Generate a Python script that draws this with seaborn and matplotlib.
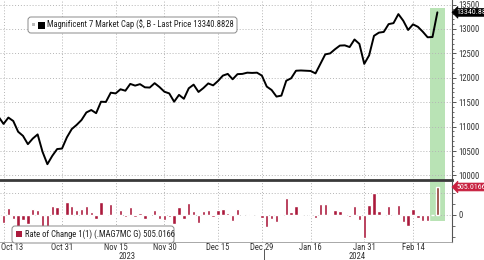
import matplotlib
matplotlib.use("Agg")
import matplotlib.pyplot as plt
import matplotlib.transforms as mtransforms
from matplotlib.patches import FancyBboxPatch, Rectangle
from matplotlib import font_manager as fm
import seaborn as sns
import numpy as np
import pandas as pd

# ---------------- data ----------------
holidays = ["2023-11-23", "2023-12-25", "2024-01-01", "2024-01-15", "2024-02-19"]
dates = pd.bdate_range("2023-10-12", "2024-02-22", freq="C", holidays=holidays)

market_cap = [
    11200, 11055, 11185, 11115, 10895, 10810, 10640, 10755, 10840, 10485,
    10230, 10400, 10540, 10550, 10780, 10950, 11035, 11135, 11290, 11340,
    11275, 11510, 11505, 11695, 11680, 11765, 11735, 11875, 11840, 11870,
    11805, 11800, 11890, 11810, 11715, 11680, 11510, 11650, 11570, 11785,
    11860, 11710, 11790, 11885, 11845, 11935, 12045, 12080, 11970, 12075,
    12080, 12105, 12100, 12105, 12045, 11820, 11750, 11615, 11635, 11940,
    11990, 12145, 12150, 12145, 12140, 12090, 12285, 12480, 12500, 12585,
    12660, 12665, 12630, 12785, 12695, 12285, 12460, 12860, 12925, 12940,
    13100, 13120, 13305, 13170, 12980, 13095, 13045, 12945, 12830, 12835.87,
    13340.8828,
]
rate_of_change = [
    45, -145, 130, -70, -220, -85, -170, 115, 85, -355,
    -255, 170, 140, 10, 230, 170, 85, 100, 155, 50,
    -65, 235, -5, 190, -15, 85, -30, 140, -35, 30,
    -65, -5, 90, -80, -95, -35, -170, 140, -80, 215,
    75, -150, 80, 95, -40, 90, 110, 35, -110, 105,
    5, 25, -5, 5, -60, -225, -70, -135, 20, 305,
    50, 155, 5, -5, -5, -50, 195, 195, 20, 85,
    75, 5, -35, 155, -90, -410, 175, 400, 65, 15,
    160, 20, 185, -135, -190, 115, -50, -100, -115, 6,
    505.0166,
]
tick_dates = ["2023-10-13", "2023-10-31", "2023-11-15", "2023-11-30", "2023-12-15",
              "2023-12-29", "2024-01-16", "2024-01-31", "2024-02-14"]
tick_labels = ["Oct 13", "Oct 31", "Nov 15", "Nov 30", "Dec 15",
               "Dec 29", "Jan 16", "Jan 31", "Feb 14"]
year_labels = ["2023", "2024"]
top_ticks = [10000, 10500, 11000, 11500, 12000, 12500, 13000, 13500]
legend_top = "Magnificent 7 Market Cap ($, B - Last Price 13340.8828"
legend_bottom = "Rate of Change 1(1) (.MAG7MC G) 505.0166"

df = pd.DataFrame({"k": np.arange(len(dates)), "cap": market_cap, "roc": rate_of_change})
tick_pos = [int(np.where(dates == pd.Timestamp(d))[0][0]) for d in tick_dates]
year_break = int(np.where(dates == pd.Timestamp("2024-01-02"))[0][0]) - 0.5

# ---------------- style ----------------
sns.set_theme(style="white")
fonts = fm.fontManager.ttflist
names = {f.name for f in fonts}
stretch = "normal"
fam = None
for cand in ["Liberation Sans Narrow", "Roboto Condensed", "Open Sans Condensed",
             "DejaVu Sans Condensed", "Noto Sans Condensed"]:
    if cand in names:
        fam = cand
        break
if fam is None:
    for cand in ["DejaVu Sans", "Noto Sans", "Open Sans", "Roboto"]:
        if any(f.name == cand and str(f.stretch) in ("condensed", "semi-condensed") for f in fonts):
            fam, stretch = cand, "condensed"
            break
if fam is None:
    fam = "Liberation Sans"
plt.rcParams["font.family"] = [fam, "DejaVu Sans"]
plt.rcParams["font.stretch"] = stretch

W, H = 485, 260
fig = plt.figure(figsize=(W / 100, H / 100), dpi=100)
px = mtransforms.IdentityTransform()

# size texts from their width in the reference
_renderer = fig.canvas.get_renderer()


def _fit(text, target):
    t = fig.text(0, 0, text, fontsize=10)
    w = t.get_window_extent(_renderer).width
    t.remove()
    return 10 * target / w


LFS = min(6.6, _fit(legend_top, 187))
FS = min(6.6, _fit("13000", 21))
BFS = min(6.6, _fit("13340.88", 29))


def fx(x):
    return x / W


def fy(y):
    return 1 - y / H


ax1 = fig.add_axes([0, fy(180), fx(452), 180 / H])
ax2 = fig.add_axes([0, fy(242), fx(452), 60 / H])

XL = (0.28, 93.0)
GREEN = "#b9e3b5"
RED = "#ab1a3c"
GRID = "#b5b5b5"
AXC = "#555555"
TXT = "#333333"

# ---- top panel ----
ax1.axvspan(88.5, 91.6, ymin=0, ymax=(13430 - 9906) / (13594 - 9906), color=GREEN, lw=0, zorder=0)
sns.lineplot(data=df, x="k", y="cap", ax=ax1, color="black", lw=1.4, zorder=3)
ax1.set_xlim(*XL)
ax1.set_ylim(9906, 13594)
ax1.set_yticks(top_ticks)
ax1.set_yticks(np.arange(10000, 13600, 100), minor=True)
ax1.set_yticklabels([str(t) for t in top_ticks])
ax1.set_xticks(tick_pos)
ax1.set_xticklabels([])
ax1.yaxis.tick_right()
ax1.tick_params(axis="y", which="major", direction="out", length=3, width=0.7, color=AXC,
                labelsize=FS, labelcolor=TXT, pad=1.5)
ax1.tick_params(axis="y", which="minor", direction="out", length=1.5, width=0.6, color=AXC)
ax1.tick_params(axis="x", length=0)
ax1.grid(True, which="major", color=GRID, ls=(0, (1, 2)), lw=0.7)
ax1.set_xlabel("")
ax1.set_ylabel("")
for s in ["left", "top"]:
    ax1.spines[s].set_visible(False)
ax1.spines["right"].set_color(AXC)
ax1.spines["right"].set_linewidth(0.8)
ax1.spines["bottom"].set_color("#3a3a3a")
ax1.spines["bottom"].set_linewidth(2.0)

# ---- bottom panel ----
ax2.axvspan(88.5, 91.6, ymin=(-108 + 487) / (595 + 487), ymax=1, color=GREEN, lw=0, zorder=0)
sns.barplot(data=df, x="k", y="roc", ax=ax2, native_scale=True, width=0.68,
            color=RED, errorbar=None, saturation=1, zorder=3)
for p in ax2.patches[-2:]:
    p.set_facecolor("#8d3a30")
ax2.set_xlim(*XL)
ax2.set_ylim(-487, 595)
ax2.set_yticks([0])
ax2.set_yticklabels(["0"])
ax2.set_yticks([-400, -200, 200, 400], minor=True)
ax2.yaxis.tick_right()
ax2.tick_params(axis="y", which="major", direction="out", length=3, width=0.7, color=AXC,
                labelsize=FS, labelcolor=TXT, pad=1.5)
ax2.tick_params(axis="y", which="minor", direction="out", length=2, width=0.6, color=AXC)
ax2.set_xticks(tick_pos)
ax2.set_xticklabels([])
ax2.tick_params(axis="x", length=0)
ax2.grid(True, axis="x", color=GRID, ls=(0, (1, 2)), lw=0.7)
for yv in [400, 0]:
    ax2.axhline(yv, color=GRID, ls=(0, (1, 2)), lw=0.7, zorder=1)
ax2.set_xlabel("")
ax2.set_ylabel("")
for s in ["left", "top"]:
    ax2.spines[s].set_visible(False)
ax2.spines["right"].set_color(AXC)
ax2.spines["right"].set_linewidth(0.8)
ax2.spines["bottom"].set_color("#9a9a9a")
ax2.spines["bottom"].set_linewidth(0.6)

# x tick labels
trans2 = mtransforms.blended_transform_factory(ax2.transData, px)
for i, (pos, lab) in enumerate(zip(tick_pos, tick_labels)):
    if i == 0:
        fig.text(fx(1), fy(248), lab, ha="left", va="center", fontsize=FS, color=TXT)
    else:
        ax2.text(pos, H - 248, lab, transform=trans2, ha="center", va="center",
                 fontsize=FS, color=TXT, clip_on=False)
for lab, xp in zip(year_labels, [127.5, 357]):
    fig.text(fx(xp), fy(256.5), lab, ha="center", va="center", fontsize=FS, color=TXT)
ax2.plot([year_break, year_break], [H - 249, H - 260], transform=trans2, color=AXC,
         lw=0.7, clip_on=False)

# value boxes on right
ax1.annotate("13340.88", xy=(1.0, 13340.88), xycoords=("axes fraction", "data"),
             xytext=(3.0, 0), textcoords="offset points", ha="left", va="center",
             fontsize=BFS, color="white", annotation_clip=False, zorder=10,
             bbox=dict(boxstyle="larrow,pad=0.12", fc="black", ec="black", lw=0.5))
ax2.annotate("505.0166", xy=(1.0, 505.0166), xycoords=("axes fraction", "data"),
             xytext=(3.0, 0), textcoords="offset points", ha="left", va="center",
             fontsize=BFS, color="white", annotation_clip=False, zorder=10,
             bbox=dict(boxstyle="larrow,pad=0.12", fc="#c8203f", ec="#c8203f", lw=0.5))


# legends (pixel coordinates)
def box(x0, y0, x1, y1):
    b = FancyBboxPatch((x0, H - y1), x1 - x0, y1 - y0,
                       boxstyle="round,pad=0,rounding_size=3",
                       fc="white", ec="#8a8a8a", lw=0.7, transform=px, zorder=20)
    fig.patches.append(b)


box(28, 17, 237, 33)
fig.patches.append(Rectangle((32, H - 26), 3, 3, fc="#bbbbbb", ec="none", transform=px, zorder=21))
fig.patches.append(Rectangle((38, H - 29), 7, 7, fc="black", ec="none", transform=px, zorder=21))
fig.text(fx(47), fy(25.3), legend_top, ha="left", va="center", fontsize=LFS,
         color="#222222", zorder=22)

box(12, 226, 174, 243)
fig.patches.append(Rectangle((16, H - 237), 6, 6, fc=RED, ec="none", transform=px, zorder=21))
fig.text(fx(25), fy(234.3), legend_bottom, ha="left", va="center", fontsize=LFS,
         color="#222222", zorder=22)

fig.savefig("out.png", dpi=100)
